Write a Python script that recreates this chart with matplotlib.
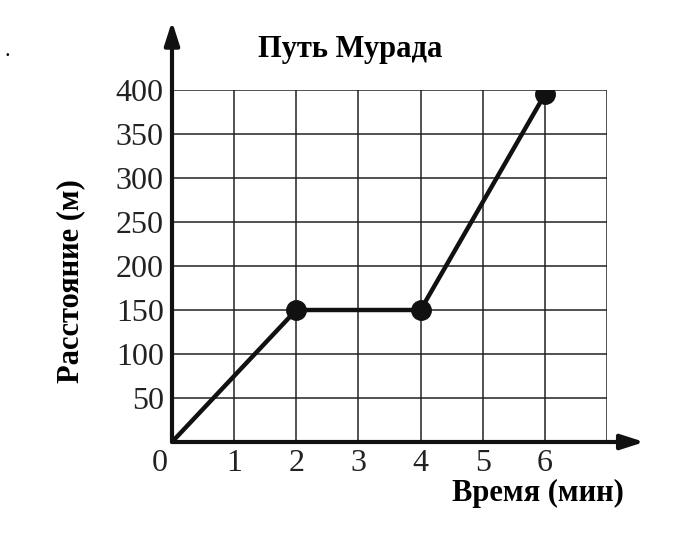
import matplotlib
matplotlib.use("Agg")
import matplotlib.pyplot as plt

time_min = [0, 2, 4, 6]
distance_m = [0, 150, 150, 395]
marker_idx = [1, 2, 3]
x_grid = [1, 2, 3, 4, 5, 6, 7]
y_grid = [50, 100, 150, 200, 250, 300, 350, 400]
x_tick_labels = ["1", "2", "3", "4", "5", "6"]
y_tick_labels = ["50", "100", "150", "200", "250", "300", "350", "400"]
title = "Путь Мурада"
xlabel = "Время (мин)"
ylabel = "Расстояние (м)"

serif = ["Liberation Serif", "DejaVu Serif"]
plt.rcParams["font.family"] = serif

fig = plt.figure(figsize=(6.76, 5.53), dpi=100)
W, H = 676, 553
left, right, bottom, top = 172, 607, 442, 90
ax = fig.add_axes([left / W, (H - bottom) / H, (right - left) / W, (bottom - top) / H])
ax.set_xlim(0, 7)
ax.set_ylim(0, 400)
for s in ax.spines.values():
    s.set_visible(False)

# grid
ax.vlines(x_grid, 0, 400, color="#222222", lw=1.1, zorder=1)
ax.hlines(y_grid, 0, 7, color="#222222", lw=1.1, zorder=1)

# axes arrows
ax.annotate("", xy=(0, 478), xytext=(0, 0), xycoords="data",
            arrowprops=dict(arrowstyle="-|>,head_length=1.4,head_width=0.45", lw=3, color="#111111",
                            shrinkA=0, shrinkB=0), annotation_clip=False, zorder=3)
ax.annotate("", xy=(7.6, 0), xytext=(0, 0), xycoords="data",
            arrowprops=dict(arrowstyle="-|>,head_length=1.4,head_width=0.45", lw=3, color="#111111",
                            shrinkA=0, shrinkB=0), annotation_clip=False, zorder=3)

# data
ax.plot(time_min, distance_m, color="#111111", lw=3.2, zorder=4, solid_capstyle="round")
ax.plot([time_min[i] for i in marker_idx], [distance_m[i] for i in marker_idx], "o",
        color="#111111", ms=14, zorder=5)

ax.set_xticks(x_grid[:6])
ax.set_xticklabels(x_tick_labels, fontsize=23, color="#222222")
ax.set_yticks(y_grid)
ax.set_yticklabels(y_tick_labels, fontsize=23, color="#222222")
ax.tick_params(length=0)
ax.tick_params(axis="y", pad=6)
ax.tick_params(axis="x", pad=5)
ax.text(-0.2, -8, "0", fontsize=23, ha="center", va="top", color="#222222")

fig.text(350 / W, 1 - 49 / H, title, fontsize=22, fontweight="bold", ha="center", va="center")
fig.text(71 / W, 1 - 281 / H, ylabel, fontsize=22, fontweight="bold", ha="center", va="center",
         rotation=90)
fig.text(624 / W, 1 - 493 / H, xlabel, fontsize=22, fontweight="bold", ha="right", va="center")
fig.text(5 / W, 1 - 52 / H, ".", fontsize=16, ha="left", va="center")

fig.savefig("out.png", dpi=100, facecolor="white")
